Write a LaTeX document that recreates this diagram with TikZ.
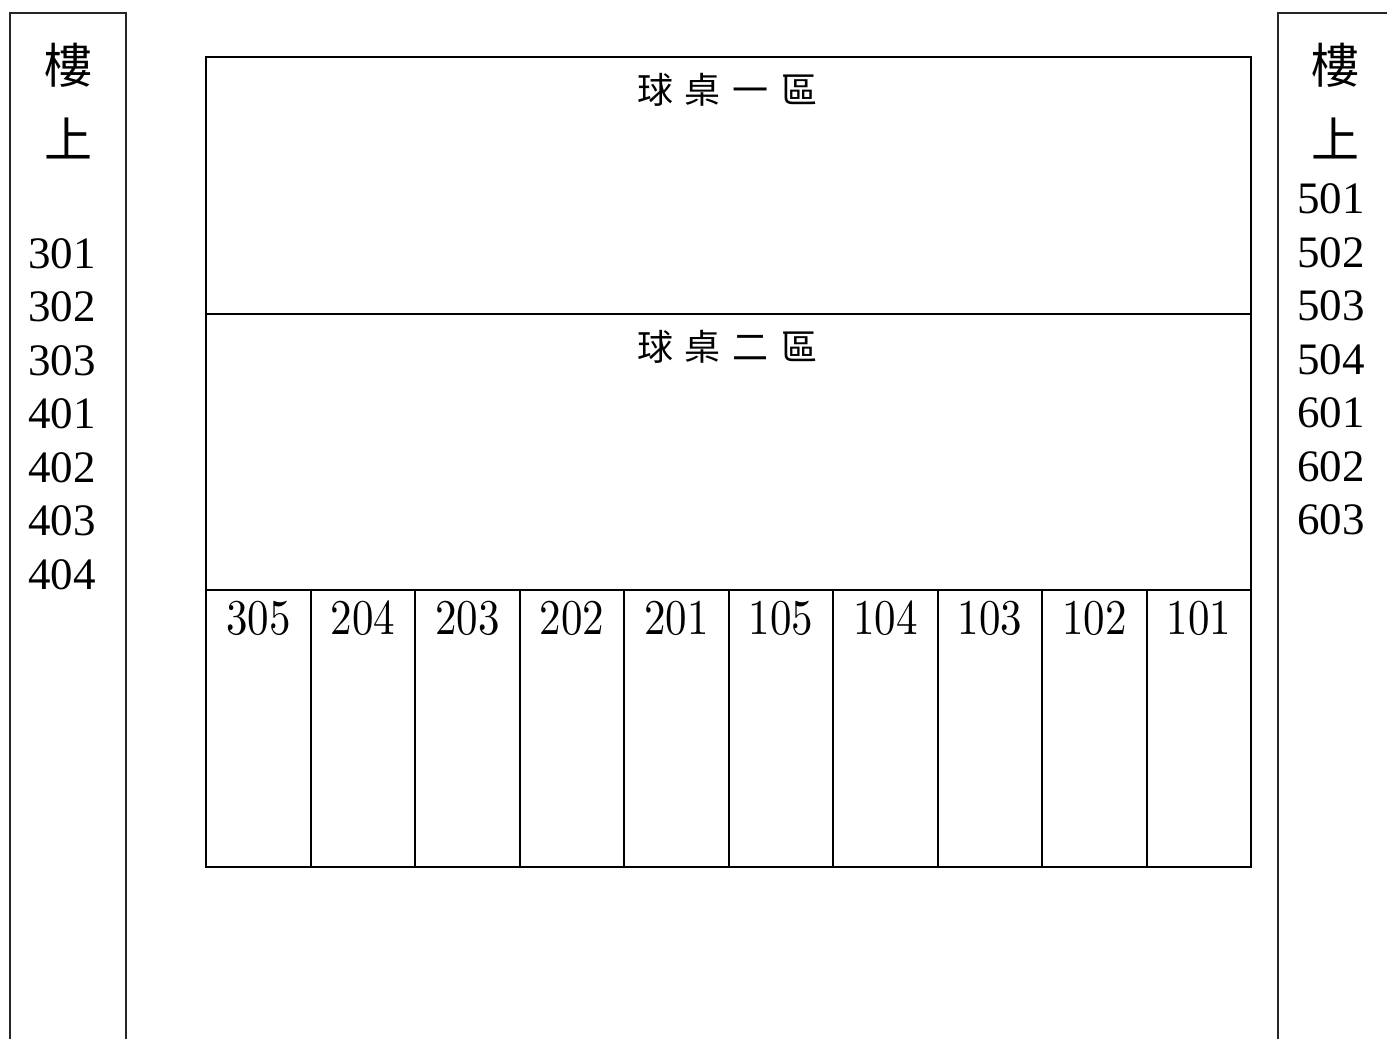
\documentclass[tikz,border=0pt]{standalone}
\usepackage{fontspec}
\setmainfont{Liberation Serif}
\newfontfamily\cjk{Noto Sans CJK TC}
\newfontfamily\lmr[Extension=.otf]{lmroman10-regular}
\begin{document}
\begin{tikzpicture}[x=1pt,y=-1pt,
  mainline/.style={line width=2pt,black},
  colline/.style={line width=1.4pt,black!85},
  numtxt/.style={inner sep=0pt,font=\fontsize{45}{45}\selectfont},
  celltxt/.style={inner sep=0pt,font=\lmr\fontsize{50}{50}\selectfont},
  bigcjk/.style={inner sep=0pt,font=\cjk\fontsize{48}{48}\selectfont},
  titlecjk/.style={inner sep=0pt,font=\cjk\fontsize{36}{36}\selectfont}]
\useasboundingbox (0,0) rectangle (1387,1039);
% side columns (open at bottom)
\draw[colline] (10,1039) -- (10,13) -- (126,13) -- (126,1039);
\draw[colline] (1278,1039) -- (1278,13) -- (1387,13);
% main box
\draw[mainline] (206,57) rectangle (1251,867);
\draw[mainline] (206,314) -- (1251,314);
\draw[mainline] (206,590) -- (1251,590);
\foreach \i in {1,...,9} {
  \draw[mainline] ({206+104.5*\i},590) -- ({206+104.5*\i},867);
}
% titles
\node[titlecjk] (z1) at (727,90) {球\hspace{12pt}桌\hspace{12pt}一\hspace{12pt}區};
\node[titlecjk] (z2) at (727,347) {球\hspace{12pt}桌\hspace{12pt}二\hspace{12pt}區};
% left column
\node[bigcjk] (l1) at (68,65) {樓};
\node[bigcjk] (l2) at (68,138) {上};
\foreach \t [count=\k from 0] in {301,302,303,401,402,403,404} {
  \node[numtxt] (ln\t) at (62,{253.5+53.5*\k}) {\t};
}
% right column
\node[bigcjk] (r1) at (1335,65) {樓};
\node[bigcjk] (r2) at (1335,138) {上};
\foreach \t [count=\k from 0] in {501,502,503,504,601,602,603} {
  \node[numtxt] (rn\t) at (1331,{199+53.5*\k}) {\t};
}
% bottom cells
\foreach \t [count=\k from 0] in {305,204,203,202,201,105,104,103,102,101} {
  \node[celltxt] (c\t) at ({206+104.5*(\k+0.5)},618.5) {\scalebox{0.86}[1]{\t}};
}
\end{tikzpicture}
\end{document}
